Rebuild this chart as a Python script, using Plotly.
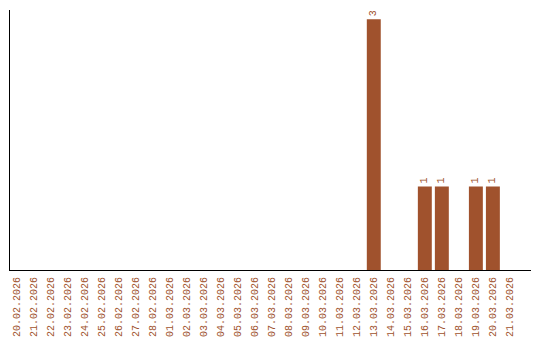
import plotly.graph_objects as go

dates = ["20.02.2026", "21.02.2026", "22.02.2026", "23.02.2026", "24.02.2026",
         "25.02.2026", "26.02.2026", "27.02.2026", "28.02.2026", "01.03.2026",
         "02.03.2026", "03.03.2026", "04.03.2026", "05.03.2026", "06.03.2026",
         "07.03.2026", "08.03.2026", "09.03.2026", "10.03.2026", "11.03.2026",
         "12.03.2026", "13.03.2026", "14.03.2026", "15.03.2026", "16.03.2026",
         "17.03.2026", "18.03.2026", "19.03.2026", "20.03.2026", "21.03.2026"]
counts = [0, 0, 0, 0, 0, 0, 0, 0, 0, 0,
          0, 0, 0, 0, 0, 0, 0, 0, 0, 0,
          0, 3, 0, 0, 1, 1, 0, 1, 1, 0]

color = "#A0522D"
labels = [str(v) if v > 0 else "" for v in counts]

fig = go.Figure(go.Bar(
    x=dates, y=counts, marker=dict(color=color, line=dict(width=0)),
    text=labels, textposition="outside", textangle=-90,
    textfont=dict(family="Liberation Mono", size=10, color=color),
    cliponaxis=False,
))
fig.update_layout(
    width=540, height=340,
    margin=dict(l=10, r=9, t=10, b=70),
    paper_bgcolor="white", plot_bgcolor="white",
    bargap=0.18, showlegend=False,
    font=dict(family="Liberation Mono", size=10, color=color),
    uniformtext=dict(mode=False),
)
fig.update_xaxes(
    type="category", range=[-0.38, 30.24], tickangle=-90,
    showline=True, linecolor="black", linewidth=1, showgrid=False,
    ticks="", tickfont=dict(family="Liberation Mono", size=10, color=color),
    zeroline=False, automargin=False, ticklabelstandoff=2,
)
fig.update_yaxes(
    range=[0, 3.11], showline=True, linecolor="black", linewidth=1,
    showgrid=False, showticklabels=False, ticks="", zeroline=False,
    automargin=False,
)
fig.write_html("out.html")
